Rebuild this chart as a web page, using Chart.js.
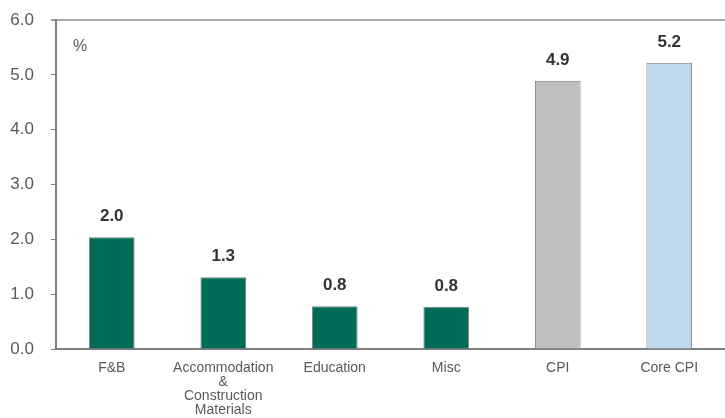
<!DOCTYPE html>
<html lang="en">
<head>
    <meta charset="UTF-8">
    <title>Inflation Contribution</title>
    <script src="https://cdn.jsdelivr.net/npm/chart.js"></script>
    <style>
        html, body { margin: 0; padding: 0; background: #fff; }
        #wrap { width: 725px; height: 418px; }
    </style>
</head>
<body>
    <div id="wrap"><canvas id="inflChart"></canvas></div>

    <script>
        // Chart data
        const categories = [['F&B'], ['Accommodation', '&', 'Construction', 'Materials'], ['Education'], ['Misc'], ['CPI'], ['Core CPI']];
        const values = [2.04, 1.31, 0.78, 0.77, 4.89, 5.22];
        const valueLabels = ['2.0', '1.3', '0.8', '0.8', '4.9', '5.2'];
        const barColors = ['#006b56', '#006b56', '#006b56', '#006b56', '#bfbfbf', '#bdd7ee'];
        const yTicks = [0, 1, 2, 3, 4, 5, 6];

        // labels above bars, "%" note and the top frame line
        const extras = {
            id: 'extras',
            afterDraw(chart) {
                const ctx = chart.ctx;
                const area = chart.chartArea;
                ctx.save();
                ctx.strokeStyle = '#8c8c8c';
                ctx.lineWidth = 1.5;
                ctx.beginPath();
                ctx.moveTo(area.left - 5, area.top);
                ctx.lineTo(area.right, area.top);
                ctx.stroke();

                ctx.fillStyle = '#595959';
                ctx.font = '16px "Liberation Sans", Arial, sans-serif';
                ctx.textAlign = 'center';
                ctx.textBaseline = 'middle';
                ctx.fillText('%', 80, 47);

                ctx.fillStyle = '#333333';
                ctx.font = 'bold 17px "Liberation Sans", Arial, sans-serif';
                ctx.textAlign = 'center';
                ctx.textBaseline = 'bottom';
                chart.getDatasetMeta(0).data.forEach((bar, i) => {
                    ctx.fillText(valueLabels[i], bar.x, bar.y - 12);
                });
                ctx.restore();
            }
        };

        const ctx = document.getElementById('inflChart').getContext('2d');
        new Chart(ctx, {
            type: 'bar',
            data: {
                labels: categories,
                datasets: [{
                    data: values,
                    backgroundColor: barColors,
                    borderColor: '#7f7f7f',
                    borderWidth: 1,
                    barPercentage: 0.41,
                    categoryPercentage: 1
                }]
            },
            options: {
                responsive: true,
                maintainAspectRatio: false,
                animation: false,
                layout: { padding: { top: 20, right: 0, left: 0, bottom: 0 } },
                plugins: {
                    legend: { display: false },
                    tooltip: { enabled: false }
                },
                scales: {
                    x: {
                        grid: { display: false },
                        border: { color: '#7f7f7f', width: 2 },
                        ticks: {
                            color: '#595959',
                            font: { family: '"Liberation Sans", Arial, sans-serif', size: 14, lineHeight: 1.0 },
                            maxRotation: 0,
                            autoSkip: false,
                            padding: 4
                        },
                        afterFit(scale) {
                            scale.height = 69;
                            scale.paddingLeft = 0;
                            scale.paddingRight = 0;
                        }
                    },
                    y: {
                        min: 0,
                        max: 6,
                        afterBuildTicks(scale) { scale.ticks = yTicks.map(v => ({ value: v })); },
                        grid: { drawOnChartArea: false, tickLength: 5, color: '#7f7f7f', tickColor: '#7f7f7f' },
                        border: { color: '#7f7f7f', width: 2 },
                        ticks: {
                            color: '#595959',
                            font: { family: '"Liberation Sans", Arial, sans-serif', size: 17 },
                            padding: 17,
                            callback: v => Number(v).toFixed(1)
                        },
                        afterFit(scale) {
                            scale.width = 56;
                            scale.paddingTop = 0;
                            scale.paddingBottom = 0;
                        }
                    }
                }
            },
            plugins: [extras]
        });
    </script>
</body>
</html>
